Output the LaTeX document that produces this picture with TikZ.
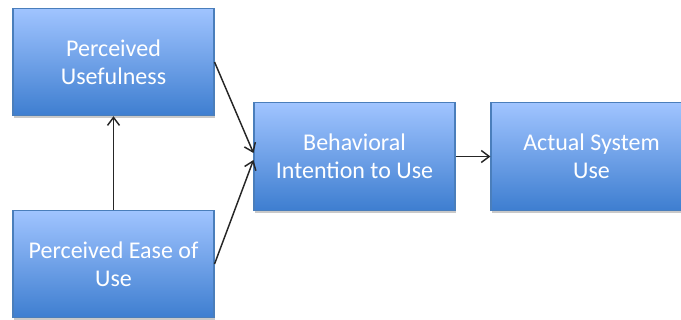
\documentclass[tikz,border=0pt]{standalone}
\usepackage{fontspec}
\setmainfont{Carlito}
\usetikzlibrary{arrows.meta,shadows}

\definecolor{boxtop}{RGB}{160,196,255}
\definecolor{boxbottom}{RGB}{62,126,208}
\definecolor{boxline}{RGB}{74,126,187}

\begin{document}
\begin{tikzpicture}[x=0.75pt,y=-0.75pt,>={Straight Barb[length=6pt,width=9pt]},
            construct/.style={rectangle,draw=boxline,line width=0.8pt,
              top color=boxtop,bottom color=boxbottom,text=white,
              font=\fontsize{18}{21}\selectfont,align=center,
              minimum width=150.75pt,minimum height=80.5pt,inner sep=0pt,
              drop shadow={shadow xshift=0.6pt,shadow yshift=-1.8pt,opacity=0.3,fill=black!70}}]
            \useasboundingbox (0,0) rectangle (681,320);

            \node[construct] (pu) at (113.5,62) {Perceived\\Usefulness};
            \node[construct] (peu) at (113.5,264) {Perceived Ease of\\Use};
            \node[construct] (bi) at (354.5,156.5) {Behavioral\\Intention to Use};
            \node[construct] (asu) at (591.5,156.5) {Actual System\\Use};

            \path[->,line width=1.1pt,color=black!85]
                  (pu.east) edge ([yshift=2.6pt]bi.west)
                  (peu.east) edge ([yshift=-2.6pt]bi.west)
                  (peu.north) edge (pu.south)
                  (bi.east) edge (asu.west);
        \end{tikzpicture}
\end{document}
